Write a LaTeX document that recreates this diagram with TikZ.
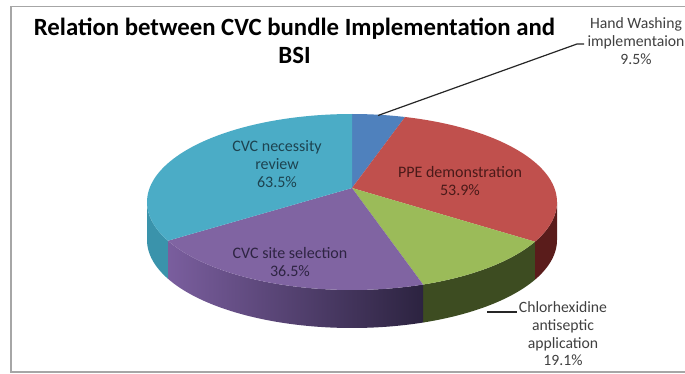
\documentclass[tikz,border=0pt]{standalone}
\usepackage{fontspec}
\setmainfont{Carlito}
\definecolor{sBlue}{HTML}{4F81BD}
\definecolor{sRed}{HTML}{C0504D}
\definecolor{sGreen}{HTML}{9BBB59}
\definecolor{sPurple}{HTML}{8064A2}
\definecolor{sCyan}{HTML}{4BACC6}
\definecolor{dRed}{HTML}{5A1C1B}
\definecolor{dGreen}{HTML}{3D4C21}
\definecolor{dPurpleL}{HTML}{7A5E9E}
\definecolor{dPurpleR}{HTML}{2C2340}
\definecolor{dCyan}{HTML}{3A93AB}
\definecolor{frameGray}{HTML}{A6A6A6}
\definecolor{lblGray}{HTML}{404040}
\definecolor{txCyan}{HTML}{1D4350}
\definecolor{txRed}{HTML}{4A1A19}
\definecolor{txPurple}{HTML}{2E2442}
\tikzset{
  lbl/.style={align=center, font=\fontsize{16}{17.7}\selectfont, inner sep=0pt},
  outlbl/.style={lbl, font=\fontsize{15.7}{17.7}\selectfont, text=lblGray},
  leader/.style={draw=black!85, line width=1.2pt},
}
\newcommand{\ex}[1]{352+205*sin(#1)}
\newcommand{\ey}[1]{202-88*cos(#1)}
\newcommand{\eyb}[1]{240-88*cos(#1)}
\begin{document}
\begin{tikzpicture}[x=1pt,y=-1pt]
\useasboundingbox (0,0) rectangle (685,374);
\fill[white] (0,0) rectangle (685,374);
\draw[frameGray, line width=1.3pt] (11,6.5) rectangle (700,372);
% side faces
\fill[dRed] plot[domain=90:116.8, samples=20, variable=\t] ({\ex{\t}},{\ey{\t}}) -- plot[domain=116.8:90, samples=20, variable=\t] ({\ex{\t}},{\eyb{\t}}) -- cycle;
\fill[dGreen] plot[domain=116.8:159.7, samples=30, variable=\t] ({\ex{\t}},{\ey{\t}}) -- plot[domain=159.7:116.8, samples=30, variable=\t] ({\ex{\t}},{\eyb{\t}}) -- cycle;
\shade[left color=dPurpleL, right color=dPurpleR] plot[domain=159.7:243.9, samples=50, variable=\t] ({\ex{\t}},{\ey{\t}}) -- plot[domain=243.9:159.7, samples=50, variable=\t] ({\ex{\t}},{\eyb{\t}}) -- cycle;
\fill[dCyan] plot[domain=243.9:270, samples=20, variable=\t] ({\ex{\t}},{\ey{\t}}) -- plot[domain=270:243.9, samples=20, variable=\t] ({\ex{\t}},{\eyb{\t}}) -- cycle;
% top faces
\coordinate (V) at (352,188);
\fill[sBlue] (V) -- plot[domain=0:15, samples=10, variable=\t] ({\ex{\t}},{\ey{\t}}) -- cycle;
\fill[sRed] (V) -- plot[domain=15:116.8, samples=50, variable=\t] ({\ex{\t}},{\ey{\t}}) -- cycle;
\fill[sGreen] (V) -- plot[domain=116.8:159.7, samples=30, variable=\t] ({\ex{\t}},{\ey{\t}}) -- cycle;
\fill[sPurple] (V) -- plot[domain=159.7:243.9, samples=50, variable=\t] ({\ex{\t}},{\ey{\t}}) -- cycle;
\fill[sCyan] (V) -- plot[domain=243.9:360, samples=60, variable=\t] ({\ex{\t}},{\ey{\t}}) -- cycle;
% title
\node[align=center, inner sep=0pt, font=\fontsize{24.8}{28}\bfseries] (title) at (294.5,41) {Relation between CVC bundle Implementation and\\BSI};
% inside labels
\node[lbl, text=txCyan] (necessity) at (277,164) {CVC necessity\\review\\63.5\%};
\node[lbl, text=txRed] (ppe) at (460,181) {PPE demonstration\\53.9\%};
\node[lbl, text=txPurple] (site) at (290,262) {CVC site selection\\36.5\%};
% outside labels
\node[outlbl] (hand) at (636,41) {Hand Washing\\implementaion\\9.5\%};
\node[outlbl] (chlor) at (563,334) {Chlorhexidine\\antiseptic\\application\\19.1\%};
% leaders
\coordinate (hwtip) at (378,115.5);
\coordinate (hwbend) at (577,44);
\coordinate (hwend) at (584,44);
\draw[leader] (hwtip) -- (hwbend) -- (hwend);
\coordinate (chtip) at (487,312);
\coordinate (chend) at (517,312);
\draw[leader] (chtip) -- (chend);
\end{tikzpicture}
\end{document}
